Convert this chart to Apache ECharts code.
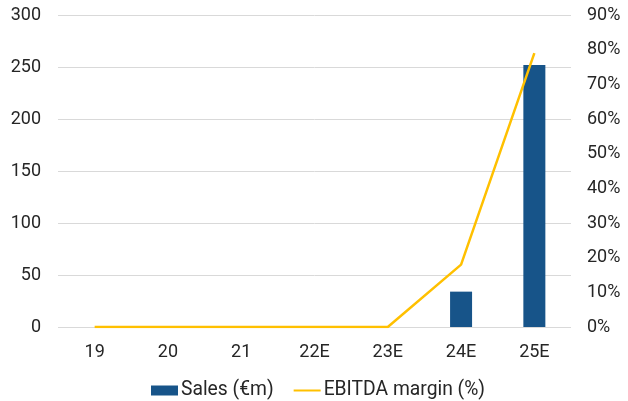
<!DOCTYPE html>
<html style="height: 100%">
<head>
<meta charset="utf-8">
<script src="https://cdn.jsdelivr.net/npm/echarts@6/dist/echarts.min.js"></script>
</head>
<body style="height: 100%; margin: 0; background: #fff">
<div id="container" style="width: 628px; height: 401px"></div>
<script>
// years / estimates
var categories = ['19', '20', '21', '22E', '23E', '24E', '25E'];
var sales = [0, 0, 0, 0, 0, 34, 252];           // €m
var ebitdaMargin = [0, 0, 0, 0, 0, 18, 79];     // %

var textColor = '#262626';
var chart = echarts.init(document.getElementById('container'));

chart.setOption({
  animation: false,
  textStyle: { fontFamily: 'Roboto', color: textColor },
  grid: { left: 58, right: 57, top: 15, bottom: 74 },
  legend: {
    top: 376,
    left: 146,
    itemGap: 20,
    itemWidth: 27,
    itemHeight: 10,
    textStyle: { fontSize: 19.3, color: textColor, fontFamily: 'Roboto', padding: [0, 0, 0, -2] },
    data: [
      { name: 'Sales (€m)', icon: 'rect' },
      { name: 'EBITDA margin (%)', icon: 'path://M0,3 L27,3 L27,5 L0,5 Z' }
    ]
  },
  xAxis: {
    type: 'category',
    data: categories,
    axisLine: { show: false },
    axisTick: { show: false },
    axisLabel: { fontSize: 18, color: textColor, margin: 16 }
  },
  yAxis: [
    {
      type: 'value',
      min: 0, max: 300, interval: 50,
      axisLine: { show: false },
      axisTick: { show: false },
      axisLabel: { fontSize: 18, color: textColor, margin: 17 },
      splitLine: { lineStyle: { color: '#d9d9d9', width: 1 } }
    },
    {
      type: 'value',
      min: 0, max: 90, interval: 10,
      position: 'right',
      axisLine: { show: false },
      axisTick: { show: false },
      axisLabel: { fontSize: 18, color: textColor, margin: 16, formatter: '{value}%' },
      splitLine: { show: false }
    }
  ],
  series: [
    {
      name: 'Sales (€m)',
      type: 'bar',
      data: sales,
      barWidth: 22,
      itemStyle: { color: '#175489' }
    },
    {
      name: 'EBITDA margin (%)',
      type: 'line',
      yAxisIndex: 1,
      data: ebitdaMargin,
      symbol: 'none',
      lineStyle: { color: '#FFC000', width: 2.5 },
      itemStyle: { color: '#FFC000' }
    }
  ]
});
</script>
</body>
</html>
